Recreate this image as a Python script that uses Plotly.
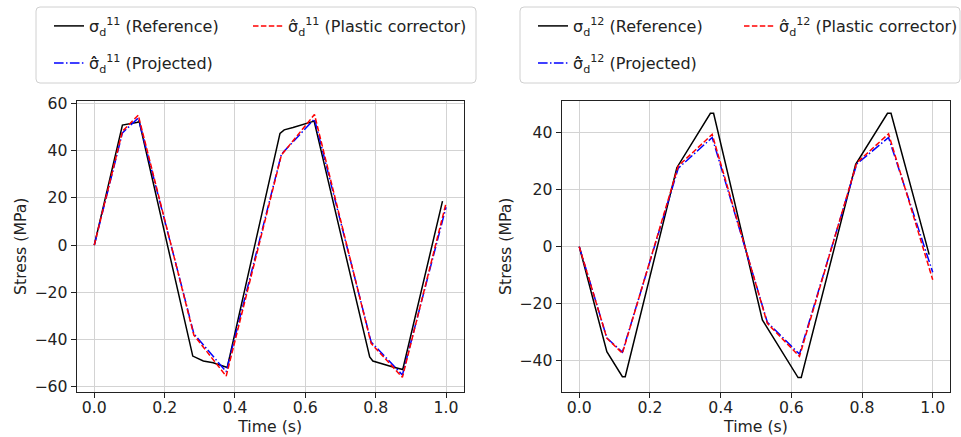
import plotly.graph_objects as go

# ---- data ----
t_ref11 = [0, 0.075, 0.08, 0.12, 0.128, 0.28, 0.31, 0.338, 0.378, 0.528, 0.54, 0.565, 0.594, 0.625, 0.783, 0.792, 0.849, 0.877, 0.99]
ref11 = [0, 47.0, 50.8, 51.9, 52.2, -47.0, -49.1, -49.8, -51.8, 47.3, 48.8, 49.8, 51.1, 52.5, -47.4, -49.1, -51.6, -52.7, 18.6]
t_pc11 = [0, 0.08, 0.125, 0.283, 0.375, 0.532, 0.626, 0.787, 0.876, 1.0]
pc11 = [0, 48.2, 55.0, -38.1, -55.5, 38.1, 55.3, -41.6, -56.0, 17.7]
proj11 = [0, 47.5, 53.8, -37.5, -53.6, 38.5, 53.4, -41.0, -55.0, 16.0]

t_ref12 = [0, 0.078, 0.122, 0.13, 0.276, 0.371, 0.38, 0.518, 0.619, 0.628, 0.782, 0.872, 0.882, 0.99]
ref12 = [0, -36.8, -45.6, -45.6, 27.7, 46.8, 46.8, -25.7, -45.9, -45.9, 28.9, 46.8, 46.8, -2.8]
t_pc12 = [0, 0.078, 0.122, 0.28, 0.376, 0.532, 0.623, 0.785, 0.875, 1.0]
pc12 = [0, -32.1, -37.4, 28.3, 39.4, -26.9, -38.5, 29.4, 39.6, -11.6]
proj12 = [0, -32.0, -37.0, 27.5, 38.3, -26.5, -37.7, 29.0, 38.3, -9.0]

x_ticks = [0.0, 0.2, 0.4, 0.6, 0.8, 1.0]
y_ticks11 = [-60, -40, -20, 0, 20, 40, 60]
y_ticks12 = [-40, -20, 0, 20, 40]

FONT = "DejaVu Sans"
FS = 15.7
FS_LEG = 16.0
W, H = 961, 437

sig = "\u03c3"
hat = "\u0302"

def label(kind, comp):
    if kind == "ref":
        return f"{sig}<sub>d</sub><sup>{comp}</sup> (Reference)"
    if kind == "pc":
        return f"{sig}{hat}<sub>d</sub><sup>{comp}</sup> (Plastic corrector)"
    return f"{sig}{hat}{hat}<sub>d</sub><sup>{comp}</sup> (Projected)"

RED_DASH = "5.5px,2.4px"
BLUE_DASHDOT = "9.6px,2.4px,1.5px,2.4px"

fig = go.Figure()

def add_set(t_ref, ref, t_pc, pc, proj, comp, xa, ya, leg_ref, leg_pc, leg_proj):
    fig.add_trace(go.Scatter(x=t_ref, y=ref, mode="lines", name=label("ref", comp),
                             line=dict(color="black", width=1.5), xaxis=xa, yaxis=ya,
                             legend=leg_ref, showlegend=True))
    fig.add_trace(go.Scatter(x=t_pc, y=proj, mode="lines", name=label("proj", comp),
                             line=dict(color="blue", width=1.5, dash=BLUE_DASHDOT), xaxis=xa, yaxis=ya,
                             legend=leg_proj, showlegend=True))
    fig.add_trace(go.Scatter(x=t_pc, y=pc, mode="lines", name=label("pc", comp),
                             line=dict(color="red", width=1.5, dash=RED_DASH), xaxis=xa, yaxis=ya,
                             legend=leg_pc, showlegend=True))

add_set(t_ref11, ref11, t_pc11, pc11, proj11, "11", "x", "y", "legend", "legend2", "legend3")
add_set(t_ref12, ref12, t_pc12, pc12, proj12, "12", "x2", "y2", "legend4", "legend5", "legend6")

ydom = [1 - 391.5 / H, 1 - 101 / H]
axis_common = dict(
    showline=True, linecolor="#222", linewidth=1.1, mirror=True,
    ticks="outside", ticklen=5, tickwidth=1, tickcolor="#222",
    showgrid=True, gridcolor="#d3d3d3", gridwidth=1,
    zeroline=False, automargin=False,
    tickfont=dict(family=FONT, size=FS, color="#222"),
    title_font=dict(family=FONT, size=FS, color="#222"),
)

def leg(xpx, ypx):
    return dict(x=xpx / W, y=1 - ypx / H, xref="container", yref="container",
                yanchor="middle", xanchor="left", orientation="h", itemwidth=30,
                bgcolor="rgba(0,0,0,0)", borderwidth=0, visible=True,
                font=dict(family=FONT, size=FS_LEG, color="#222"))

ROW1, ROW2 = 26, 63
L_C1, L_C2 = 49, 248
R_C1, R_C2 = 533, 739

def rounded_box(x0, y0, x1, y1, r=4):
    def px(x):
        return x / W
    def py(y):
        return 1 - y / H
    return (f"M {px(x0 + r)},{py(y0)} L {px(x1 - r)},{py(y0)} "
            f"Q {px(x1)},{py(y0)} {px(x1)},{py(y0 + r)} L {px(x1)},{py(y1 - r)} "
            f"Q {px(x1)},{py(y1)} {px(x1 - r)},{py(y1)} L {px(x0 + r)},{py(y1)} "
            f"Q {px(x0)},{py(y1)} {px(x0)},{py(y1 - r)} L {px(x0)},{py(y0 + r)} "
            f"Q {px(x0)},{py(y0)} {px(x0 + r)},{py(y0)} Z")

shapes = [
    dict(type="path", xref="paper", yref="paper", path=rounded_box(36, 7, 476, 83),
         line=dict(color="#d0d0d0", width=1), fillcolor="white", layer="below"),
    dict(type="path", xref="paper", yref="paper", path=rounded_box(520, 7, 960, 83),
         line=dict(color="#d0d0d0", width=1), fillcolor="white", layer="below"),
]

fig.update_layout(
    width=W, height=H,
    showlegend=True,
    margin=dict(l=0, r=0, t=0, b=0, autoexpand=False),
    paper_bgcolor="white", plot_bgcolor="white",
    font=dict(family=FONT, size=FS, color="#222"),
    xaxis=dict(domain=[76.7 / W, 463.6 / W], range=[-0.05, 1.05], tickvals=x_ticks,
               tickformat=".1f", anchor="y", ticklabelstandoff=-3,
               title=dict(text="Time (s)", standoff=0), **axis_common),
    yaxis=dict(domain=ydom, range=[-62.0, 61.0], tickvals=y_ticks11, anchor="x",
               title=dict(text="Stress (MPa)", standoff=3), **axis_common),
    xaxis2=dict(domain=[561.6 / W, 950.4 / W], range=[-0.05, 1.05], tickvals=x_ticks,
                tickformat=".1f", anchor="y2", ticklabelstandoff=-3,
                title=dict(text="Time (s)", standoff=0), **axis_common),
    yaxis2=dict(domain=ydom, range=[-50.8, 51.1], tickvals=y_ticks12, anchor="x2",
                title=dict(text="Stress (MPa)", standoff=3), **axis_common),
    legend=leg(L_C1, ROW1),
    legend2=leg(L_C2, ROW1),
    legend3=leg(L_C1, ROW2),
    legend4=leg(R_C1, ROW1),
    legend5=leg(R_C2, ROW1),
    legend6=leg(R_C1, ROW2),
    shapes=shapes,
)

fig.write_html("out.html", config={"displayModeBar": False},
               post_script="document.body.style.margin='0';document.body.style.overflow='hidden';")
